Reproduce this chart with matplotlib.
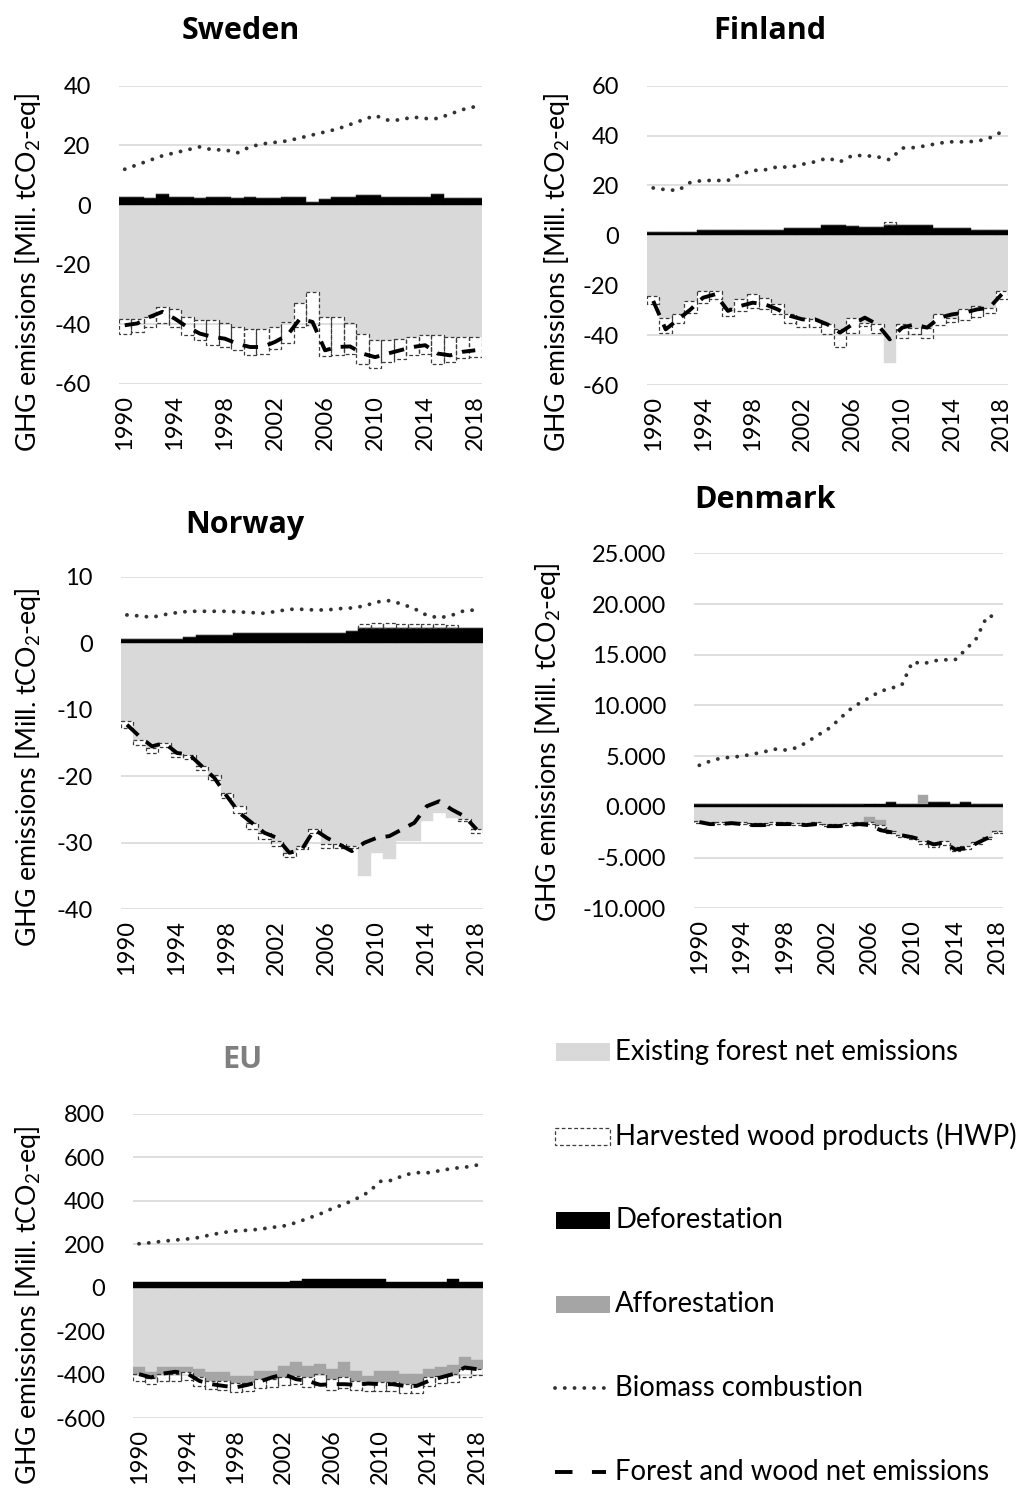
import numpy as np
import matplotlib
matplotlib.use("Agg")
import matplotlib.pyplot as plt
from matplotlib.patches import Rectangle
from matplotlib.lines import Line2D

plt.rcParams['font.family'] = ['Lato', 'DejaVu Sans']
plt.rcParams['mathtext.fontset'] = 'custom'
plt.rcParams['mathtext.rm'] = 'Lato'
plt.rcParams['mathtext.it'] = 'Lato'
plt.rcParams['mathtext.bf'] = 'Lato:bold'

# ---------------- data ----------------
years = list(range(1990, 2019))
tick_years = [1990, 1994, 1998, 2002, 2006, 2010, 2014, 2018]

sweden_forest = [-38.1, -38.1, -37.5, -34.2, -34.7, -37.5, -38.6, -38.6, -39.7, -40.9, -41.4, -41.4, -40.9, -39.2,
                 -33.0, -29.1, -37.5, -37.5, -39.7, -43.1, -45.3, -45.3, -44.8, -44.2, -43.6, -43.6, -44.2, -44.2, -44.2]
sweden_hwp = [-5.0, -4.4, -3.5, -5.2, -6.2, -6.0, -6.7, -8.4, -7.9, -7.8, -9.0, -8.4, -7.2, -7.2,
              -7.9, -11.2, -13.1, -12.7, -10.3, -10.2, -9.2, -7.3, -6.7, -6.2, -6.2, -9.8, -8.4, -7.2, -6.7]
sweden_defor = [2.8, 2.8, 2.4, 3.6, 2.8, 2.6, 2.2, 2.8, 2.8, 2.2, 2.8, 2.2, 2.2, 2.8,
                2.8, 1.1, 1.9, 2.6, 2.6, 3.5, 3.5, 2.8, 2.8, 2.8, 2.8, 3.6, 2.2, 2.2, 2.2]
sweden_affor = [0.0] * 29
sweden_biomass = [12, 13.5, 15, 16.5, 17.5, 18.5, 19.5, 18.5, 18.5, 17.5, 19.5, 20.5, 21, 21.5,
                  22.5, 23.5, 24.5, 25.5, 27, 28.5, 30, 28.5, 28.5, 29.5, 29, 29, 30.5, 32, 33]
sweden_net = [-40.3, -39.7, -37.5, -35.8, -38.1, -40.9, -43.1, -44.2, -44.8, -46.5, -47.6, -47.6, -45.9, -43.6,
              -38.1, -39.2, -48.7, -47.6, -47.4, -49.8, -51.0, -49.8, -48.7, -47.6, -47.0, -49.8, -50.4, -49.2, -48.7]

finland_forest = [-24.3, -33.0, -31.7, -26.3, -22.3, -22.3, -29.0, -25.6, -23.6, -25.0, -27.7, -31.7, -33.0, -33.7,
                  -35.7, -37.7, -33.0, -35.0, -35.7, -51.0, -35.7, -37.0, -37.0, -31.7, -33.0, -29.7, -28.3, -29.0, -22.3]
finland_hwp = [-3.3, -6.0, -3.3, -4.7, -4.7, -3.3, -3.3, -4.7, -5.4, -4.7, -4.0, -3.6, -3.7, -3.0,
               -4.0, -7.0, -6.3, -1.4, -3.4, 1.5, -5.3, -2.7, -4.0, -4.3, -1.7, -4.3, -4.4, -2.0, -3.3]
finland_defor = [1.3, 1.3, 1.3, 1.3, 2.0, 2.0, 2.0, 2.0, 2.0, 2.0, 2.0, 3.0, 3.0, 3.0,
                 4.0, 4.0, 3.6, 3.4, 3.4, 4.0, 4.0, 4.0, 4.0, 3.0, 3.0, 3.0, 2.0, 2.0, 2.0]
finland_affor = [0.0] * 29
finland_biomass = [19, 18.3, 18, 21.3, 22, 22, 22, 24.5, 26, 26.3, 27.5, 27.3, 28.5, 29.5,
                   31, 29.5, 32, 32, 31.5, 30.3, 35, 35.2, 36, 37, 37.5, 37.5, 37.7, 39, 41.5]
finland_net = [-26.3, -37.7, -33.7, -29.7, -25.0, -23.6, -30.3, -28.3, -27.0, -27.7, -29.7, -32.3, -33.7, -33.7,
               -35.7, -39.0, -35.7, -33.0, -35.7, -41.7, -37.0, -35.7, -37.0, -33.0, -31.7, -31.0, -29.7, -29.0, -23.6]

norway_forest = [-11.75, -14.5, -15.75, -15.0, -16.5, -16.75, -18.5, -19.75, -22.5, -24.5, -27.0, -28.5, -29.75, -31.5,
                 -30.5, -28.0, -30.25, -30.25, -30.5, -35.0, -31.5, -32.5, -29.75, -29.75, -26.75, -25.5, -26.25, -26.5, -28.0]
norway_hwp = [-1.0, -0.8, -0.8, -0.6, -0.6, -0.6, -0.6, -0.8, -0.8, -1.0, -1.0, -1.0, -0.8, -0.6,
              -0.5, -0.5, -0.5, -0.5, -0.3, 0.6, 0.8, 0.8, 0.7, 0.7, 0.6, 0.6, 0.5, -0.3, -0.5]
norway_defor = [0.6, 0.6, 0.6, 0.6, 0.6, 0.9, 1.25, 1.25, 1.25, 1.6, 1.6, 1.6, 1.6, 1.6,
                1.6, 1.6, 1.6, 1.6, 1.9, 2.25, 2.25, 2.25, 2.25, 2.25, 2.25, 2.25, 2.25, 2.25, 2.25]
norway_affor = [0.0] * 29
norway_biomass = [4.25, 4.1, 3.9, 4.3, 4.6, 4.8, 4.8, 4.8, 4.8, 4.7, 4.6, 4.5, 4.8, 5.1,
                  5.1, 5.0, 5.0, 5.2, 5.3, 5.6, 6.2, 6.4, 5.9, 5.2, 4.2, 3.8, 4.2, 4.9, 5.0]
norway_net = [-12.25, -14.0, -15.5, -15.0, -16.5, -16.75, -18.5, -20.25, -23.0, -25.5, -27.0, -28.5, -29.25, -31.5,
              -31.0, -28.0, -29.25, -30.25, -31.25, -30.0, -29.25, -29.0, -28.0, -27.0, -24.5, -23.75, -25.0, -26.0, -28.0]

denmark_forest = [-1.4, -1.5, -1.5, -1.5, -1.5, -1.6, -1.6, -1.5, -1.5, -1.6, -1.6, -1.5, -1.7, -1.7,
                  -1.6, -1.5, -1.0, -1.3, -2.4, -2.8, -3.0, -3.4, -3.6, -3.4, -4.0, -3.9, -3.5, -3.0, -2.4]
denmark_hwp = [-0.2, -0.2, -0.2, -0.2, -0.2, -0.2, -0.2, -0.2, -0.2, -0.2, -0.2, -0.2, -0.2, -0.2,
               -0.2, -0.2, -0.2, -0.3, -0.2, -0.2, -0.2, -0.3, -0.4, -0.4, -0.4, -0.3, -0.2, -0.2, -0.2]
denmark_defor = [0.25, 0.25, 0.25, 0.25, 0.25, 0.25, 0.25, 0.25, 0.25, 0.25, 0.25, 0.25, 0.25, 0.25,
                 0.25, 0.25, 0.25, 0.25, 0.5, 0.25, 0.25, 0.3, 0.5, 0.5, 0.25, 0.5, 0.25, 0.25, 0.25]
denmark_affor = [0.0, 0.0, 0.0, 0.0, 0.0, 0.0, 0.0, 0.0, 0.0, 0.0, 0.0, 0.0, 0.0, 0.0,
                 0.0, 0.0, -0.5, -0.5, 0.0, 0.0, 0.0, 0.9, 0.0, 0.0, 0.0, 0.0, 0.0, 0.0, 0.0]
denmark_biomass = [4.1, 4.5, 4.8, 4.9, 5.0, 5.2, 5.4, 5.7, 5.6, 5.8, 6.3, 7.0, 7.6, 8.5,
                   9.5, 10.2, 10.8, 11.4, 11.7, 12.0, 14.3, 14.1, 14.4, 14.5, 14.5, 15.5, 16.6, 18.8, 18.8]
denmark_net = [-1.5, -1.7, -1.7, -1.6, -1.7, -1.8, -1.8, -1.7, -1.7, -1.7, -1.8, -1.7, -1.9, -1.9,
               -1.8, -1.7, -1.8, -2.3, -2.5, -2.8, -3.0, -3.3, -3.7, -3.5, -4.2, -4.1, -3.6, -3.1, -2.5]

eu_forest = [-363, -389, -363, -363, -366, -374, -389, -389, -405, -405, -381, -381, -358, -343,
             -358, -351, -374, -343, -381, -405, -381, -381, -397, -397, -374, -366, -354, -320, -332]
eu_hwp = [-30, -30, -30, -30, -35, -40, -40, -45, -45, -40, -40, -35, -35, -40,
          -45, -50, -50, -50, -45, -30, -40, -40, -40, -40, -40, -35, -35, -35, -30]
eu_defor = [26, 26, 26, 26, 26, 26, 26, 26, 26, 26, 26, 26, 26, 30,
            40, 42, 42, 42, 42, 42, 40, 26, 26, 26, 26, 26, 40, 26, 26]
eu_affor = [-34, -25, -34, -34, -23, -38, -38, -38, -31, -31, -38, -38, -54, -61,
            -54, -46, -46, -69, -46, -38, -54, -54, -46, -46, -38, -38, -43, -54, -41]
eu_biomass = [203, 208, 215, 220, 225, 232, 245, 255, 262, 265, 270, 278, 285, 300,
              320, 340, 365, 385, 410, 440, 490, 495, 520, 530, 530, 540, 550, 555, 565]
eu_net = [-397, -412, -394, -386, -394, -428, -443, -451, -458, -446, -431, -412, -397, -420,
          -428, -446, -443, -443, -446, -440, -443, -443, -451, -451, -428, -412, -397, -366, -374]

legend_labels = ["Existing forest net emissions", "Harvested wood products (HWP)", "Deforestation",
                 "Afforestation", "Biomass combustion", "Forest and wood net emissions"]

# ---------------- style ----------------
W, H = 1021, 1498
C_FOREST = '#d9d9d9'
C_AFFOR = '#a5a5a5'
C_DEFOR = '#000000'
C_HWP_EDGE = '#3c3c3c'
C_GRID = '#d9d9d9'
TICK_FS = 17
LEG_FS = 19.8
YLAB_FS = 19.3
TITLE_FS = 22
DOT_STYLE = (0, (0.01, 2.5))
DASH_STYLE = (0, (4.0, 2.6))
LINE_LW = 2.8

fig = plt.figure(figsize=(W / 100, H / 100), dpi=100)
fig.patch.set_facecolor('white')


def px_rect(x0, x1, y_top, y_bot):
    return [x0 / W, 1 - y_bot / H, (x1 - x0) / W, (y_bot - y_top) / H]


def draw_panel(rect, forest, defor, affor, hwp, biomass, net, ylim, yticks, ylabels):
    ax = fig.add_axes(rect)
    n = len(years)
    x = np.arange(n)
    pos = np.zeros(n)
    neg = np.zeros(n)
    for vals, kind in [(forest, 'f'), (defor, 'd'), (affor, 'a'), (hwp, 'h')]:
        v = np.asarray(vals, dtype=float)
        bottom = np.where(v >= 0, pos, neg)
        if kind == 'h':
            ax.bar(x, v, width=1.0, bottom=bottom, facecolor='none', edgecolor=C_HWP_EDGE,
                   linestyle=(0, (3, 2)), linewidth=0.9, zorder=3)
        else:
            col = {'f': C_FOREST, 'd': C_DEFOR, 'a': C_AFFOR}[kind]
            ax.bar(x, v, width=1.0, bottom=bottom, color=col, edgecolor=col, linewidth=0.3, zorder=2)
        pos = np.where(v >= 0, pos + v, pos)
        neg = np.where(v < 0, neg + v, neg)
    ax.plot(x, biomass, color='#333333', lw=LINE_LW, linestyle=DOT_STYLE, dash_capstyle='round', zorder=4)
    ax.plot(x, net, color='black', lw=LINE_LW, linestyle=DASH_STYLE, zorder=5)
    ax.set_xlim(-0.5, n - 0.5)
    ax.set_ylim(*ylim)
    ax.set_yticks(yticks)
    ax.set_yticklabels(ylabels)
    ax.set_xticks([years.index(y) for y in tick_years])
    ax.set_xticklabels([str(y) for y in tick_years], rotation=90, va='top', ha='center')
    ax.tick_params(axis='both', length=0, labelsize=TICK_FS, colors='black')
    ax.tick_params(axis='y', pad=20)
    ax.tick_params(axis='x', pad=8)
    for s in ax.spines.values():
        s.set_visible(False)
    ax.grid(axis='y', color=C_GRID, lw=1.2)
    ax.set_axisbelow(True)
    ax.patch.set_alpha(0)
    return ax


def int_labels(ticks):
    return [str(int(t)) for t in ticks]


sw_ticks = [40, 20, 0, -20, -40, -60]
draw_panel(px_rect(118.5, 481.5, 85.7, 384), sweden_forest, sweden_defor, sweden_affor, sweden_hwp,
           sweden_biomass, sweden_net, (-60, 40), sw_ticks, int_labels(sw_ticks))
fi_ticks = [60, 40, 20, 0, -20, -40, -60]
draw_panel(px_rect(647, 1008, 85.7, 385), finland_forest, finland_defor, finland_affor, finland_hwp,
           finland_biomass, finland_net, (-60, 60), fi_ticks, int_labels(fi_ticks))
no_ticks = [10, 0, -10, -20, -30, -40]
draw_panel(px_rect(120.7, 483, 576.7, 909.3), norway_forest, norway_defor, norway_affor, norway_hwp,
           norway_biomass, norway_net, (-40, 10), no_ticks, int_labels(no_ticks))
dk_ticks = [25, 20, 15, 10, 5, 0, -5, -10]
draw_panel(px_rect(694, 1003, 553.3, 908.3), denmark_forest, denmark_defor, denmark_affor, denmark_hwp,
           denmark_biomass, denmark_net, (-10, 25), dk_ticks, [f"{t:.3f}" for t in dk_ticks])
eu_ticks = [800, 600, 400, 200, 0, -200, -400, -600]
draw_panel(px_rect(133, 483, 1114, 1418.3), eu_forest, eu_defor, eu_affor, eu_hwp,
           eu_biomass, eu_net, (-600, 800), eu_ticks, int_labels(eu_ticks))

# titles
for name, xc, yc, col in [("Sweden", 241, 31, 'black'), ("Finland", 770, 31, 'black'),
                          ("Norway", 245, 525, 'black'), ("Denmark", 765, 500, 'black'),
                          ("EU", 242, 1060, '#7f7f7f')]:
    fig.text(xc / W, 1 - yc / H, name, ha='center', va='center', fontsize=TITLE_FS,
             fontweight='bold', color=col, family=['Open Sans', 'DejaVu Sans'])

# y labels
ylab = r"GHG emissions [Mill. tCO$_2$-eq]"
for xc, yc in [(28, 272), (557, 272), (28, 767), (548, 742), (28, 1305)]:
    fig.text(xc / W, 1 - yc / H, ylab, rotation=90, ha='center', va='center', fontsize=YLAB_FS)

# legend (drawn in pixel coordinates)
lax = fig.add_axes([0, 0, 1, 1])
lax.set_xlim(0, W)
lax.set_ylim(H, 0)
lax.axis('off')
lax.patch.set_alpha(0)
ys = [1052, 1136, 1220, 1304, 1388, 1472]
lax.add_patch(Rectangle((556, ys[0] - 9), 54, 18, facecolor=C_FOREST, edgecolor='none'))
lax.add_patch(Rectangle((555, ys[1] - 8.5), 55, 17, facecolor='none', edgecolor=C_HWP_EDGE,
                        linestyle=(0, (3, 2)), linewidth=0.9))
lax.add_patch(Rectangle((556, ys[2] - 8.5), 54, 17, facecolor=C_DEFOR, edgecolor='none'))
lax.add_patch(Rectangle((556, ys[3] - 8.5), 54, 17, facecolor=C_AFFOR, edgecolor='none'))
lax.add_line(Line2D([555, 608], [ys[4], ys[4]], color='#333333', lw=LINE_LW, linestyle=DOT_STYLE,
                    dash_capstyle='round'))
lax.add_line(Line2D([555, 606], [ys[5], ys[5]], color='black', lw=LINE_LW, linestyle=(0, (4.5, 5))))
for y, lab in zip(ys, legend_labels):
    lax.text(615, y, lab, ha='left', va='center', fontsize=LEG_FS)

fig.savefig("out.png", dpi=100, facecolor='white')
